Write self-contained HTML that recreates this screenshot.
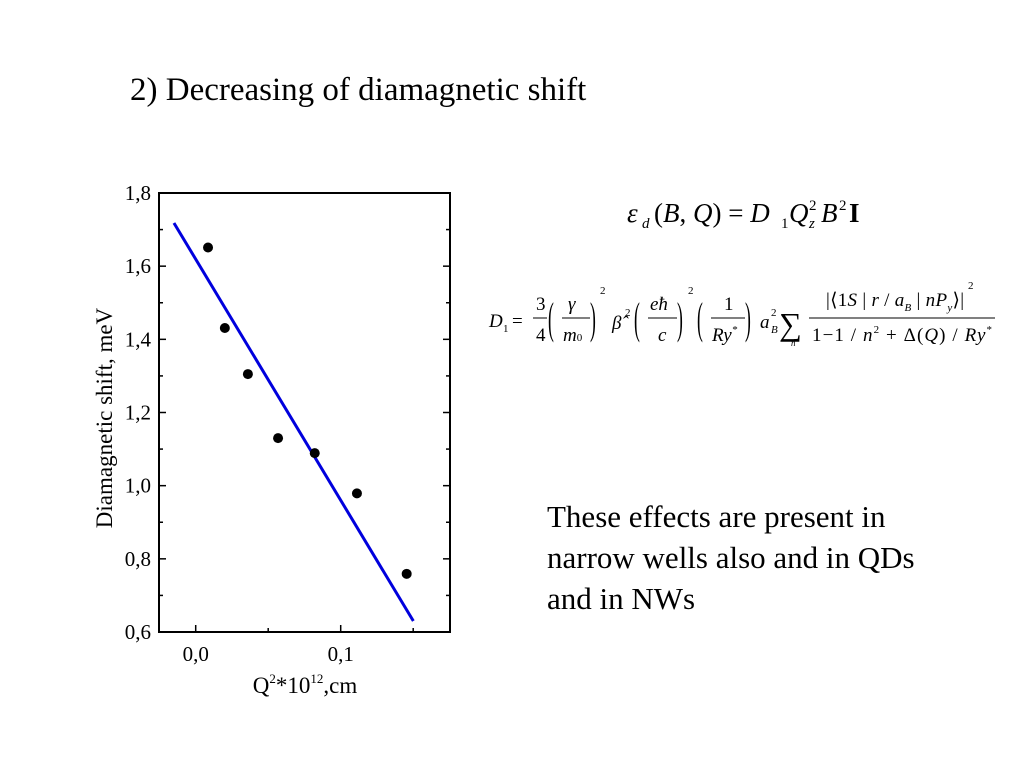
<!DOCTYPE html>
<html><head><meta charset="utf-8"><style>
body{margin:0;width:1024px;height:768px;background:#fff;overflow:hidden;font-family:"Liberation Serif",serif;position:relative}
.t{position:absolute;color:#000;white-space:nowrap}
</style></head><body>
<div class="t" style="left:130px;top:72px;font-size:33px">2) Decreasing of diamagnetic shift</div>
<div class="t" style="left:547px;top:496px;font-size:31px;line-height:41px">These effects are present in<br>narrow wells also and in QDs<br>and in NWs</div>
<svg width="1024" height="768" style="position:absolute;left:0;top:0" font-family="Liberation Serif, serif">
<g font-size="27">
<text x="627" y="222" font-style="italic">ε</text><text x="642" y="228" font-size="15" font-style="italic">d</text>
<text x="654" y="222">(<tspan font-style="italic">B</tspan>, <tspan font-style="italic">Q</tspan>) = <tspan font-style="italic">D</tspan></text>
<text x="781" y="228" font-size="15">1</text><text x="789" y="222" font-style="italic">Q</text>
<text x="809" y="210" font-size="15">2</text><text x="809" y="228" font-size="15" font-style="italic">z</text>
<text x="821" y="222" font-style="italic">B</text><text x="839" y="210" font-size="15">2</text><text x="849" y="222" font-weight="bold">I</text>
</g>
<g font-size="19">
<text x="489" y="327" font-style="italic">D</text><text x="503" y="332" font-size="11">1</text><text x="512" y="327">=</text>
<text x="536" y="310">3</text><line x1="533" y1="318" x2="547" y2="318" stroke="#000"/><text x="536" y="341">4</text>
<text transform="translate(548,333) scale(0.8,2)" font-size="22">(</text>
<text x="568" y="310" font-style="italic">γ</text><line x1="562" y1="318" x2="590" y2="318" stroke="#000"/><text x="563" y="341" font-style="italic">m<tspan font-size="11" font-style="normal">0</tspan></text>
<text transform="translate(590,333) scale(0.8,2)" font-size="22">)</text><text x="600" y="294" font-size="11">2</text>
<text x="612" y="329" font-style="italic">β̂</text><text x="625" y="316" font-size="11">2</text>
<text transform="translate(634,333) scale(0.8,2)" font-size="22">(</text>
<text x="650" y="310" font-style="italic">eħ</text><line x1="648" y1="318" x2="677" y2="318" stroke="#000"/><text x="658" y="341" font-style="italic">c</text>
<text transform="translate(677,333) scale(0.8,2)" font-size="22">)</text><text x="688" y="294" font-size="11">2</text>
<text transform="translate(697,333) scale(0.8,2)" font-size="22">(</text>
<text x="724" y="310">1</text><line x1="711" y1="318" x2="745" y2="318" stroke="#000"/><text x="712" y="341" font-style="italic">Ry<tspan font-size="11" dy="-8">*</tspan></text>
<text transform="translate(745,333) scale(0.8,2)" font-size="22">)</text>
<text x="760" y="328" font-style="italic">a</text><text x="771" y="316" font-size="11">2</text><text x="771" y="333" font-size="11" font-style="italic">B</text>
<text x="779" y="335" font-size="32">∑</text><text x="791" y="346" font-size="9" font-style="italic">n</text>
<line x1="809" y1="318" x2="995" y2="318" stroke="#000"/>
<text x="826" y="306" textLength="138">|⟨1<tspan font-style="italic">S</tspan> | <tspan font-style="italic">r</tspan> / <tspan font-style="italic">a</tspan><tspan font-size="11" font-style="italic" dy="5">B</tspan><tspan dy="-5"> | </tspan><tspan font-style="italic">nP</tspan><tspan font-size="11" font-style="italic" dy="5">y</tspan><tspan dy="-5">⟩|</tspan></text>
<text x="968" y="289" font-size="11">2</text>
<text x="812" y="341" textLength="180">1−1 / <tspan font-style="italic">n</tspan><tspan font-size="11" dy="-8">2</tspan><tspan dy="8"> + Δ(</tspan><tspan font-style="italic">Q</tspan>) / <tspan font-style="italic">Ry</tspan><tspan font-size="11" dy="-8">*</tspan></text>
</g>
</svg>
<svg id="chart" width="1024" height="768" style="position:absolute;left:0;top:0" font-family="Liberation Serif, serif"></svg>
<script>
const xVals=[0.0085,0.0201,0.0360,0.0568,0.0821,0.1112,0.1455];
const yVals=[1.651,1.431,1.305,1.130,1.089,0.979,0.759];
const fitX=[-0.0150,0.1501];
const fitY=[1.718,0.630];
const xTickLabels=["0,0","0,1"];
const xTickVals=[0,0.1];
const yTickVals=[0.6,0.8,1.0,1.2,1.4,1.6,1.8];
const yTickLabels=["0,6","0,8","1,0","1,2","1,4","1,6","1,8"];
const L=159,R=450,T=193,B=632;
const X=v=>195.7+v*1450;
const Y=v=>B-(v-0.6)*(B-T)/1.2;
const svg=document.getElementById('chart');
const NS='http://www.w3.org/2000/svg';
function mk(tag,attrs,parent){const e=document.createElementNS(NS,tag);for(const k in attrs)e.setAttribute(k,attrs[k]);(parent||svg).appendChild(e);return e;}
const frame=mk('rect',{x:L,y:T,width:R-L,height:B-T,fill:'none',stroke:'#000','stroke-width':2});


for(let v=0.6;v<=1.801;v+=0.1){const y=Y(v);const major=Math.round(v*10)%2===0;const len=major?7:4;
 const t1=mk('line',{x1:L,x2:L+len,y1:y,y2:y,stroke:'#000','stroke-width':1.5});
 
 
 const t2=mk('line',{x1:R,x2:R-len,y1:y,y2:y,stroke:'#000','stroke-width':1.5});
 
 }
yTickVals.forEach((v,i)=>{const t=mk('text',{x:L-8,y:Y(v)+7,'font-size':21,'text-anchor':'end'});t.textContent=yTickLabels[i];
 
 });
[0,0.05,0.1,0.15].forEach(v=>{const x=X(v);const len=(Math.round(v*100)%10===0)?7:4;
 const t=mk('line',{x1:x,x2:x,y1:B,y2:B-len,stroke:'#000','stroke-width':1.5});
 
 });
xTickVals.forEach((v,i)=>{const t=mk('text',{x:X(v),y:B+29,'font-size':21,'text-anchor':'middle'});t.textContent=xTickLabels[i];
 
 });
const xt=mk('text',{x:305,y:693,'font-size':23,'text-anchor':'middle'});
xt.innerHTML='Q<tspan font-size="13" dy="-10">2</tspan><tspan dy="10">*10</tspan><tspan font-size="13" dy="-10">12</tspan><tspan dy="10">,cm</tspan>';


const yt=mk('text',{x:112,y:418,'font-size':23,'text-anchor':'middle',transform:'rotate(-90 112 418)'});
yt.textContent='Diamagnetic shift, meV';


const fit=mk('line',{x1:X(fitX[0]),y1:Y(fitY[0]),x2:X(fitX[1]),y2:Y(fitY[1]),stroke:'#0000dd','stroke-width':3});


xVals.forEach((v,i)=>{const c=mk('circle',{cx:X(v),cy:Y(yVals[i]),r:5,fill:'#000'});
 
 });
</script>
</body></html>
